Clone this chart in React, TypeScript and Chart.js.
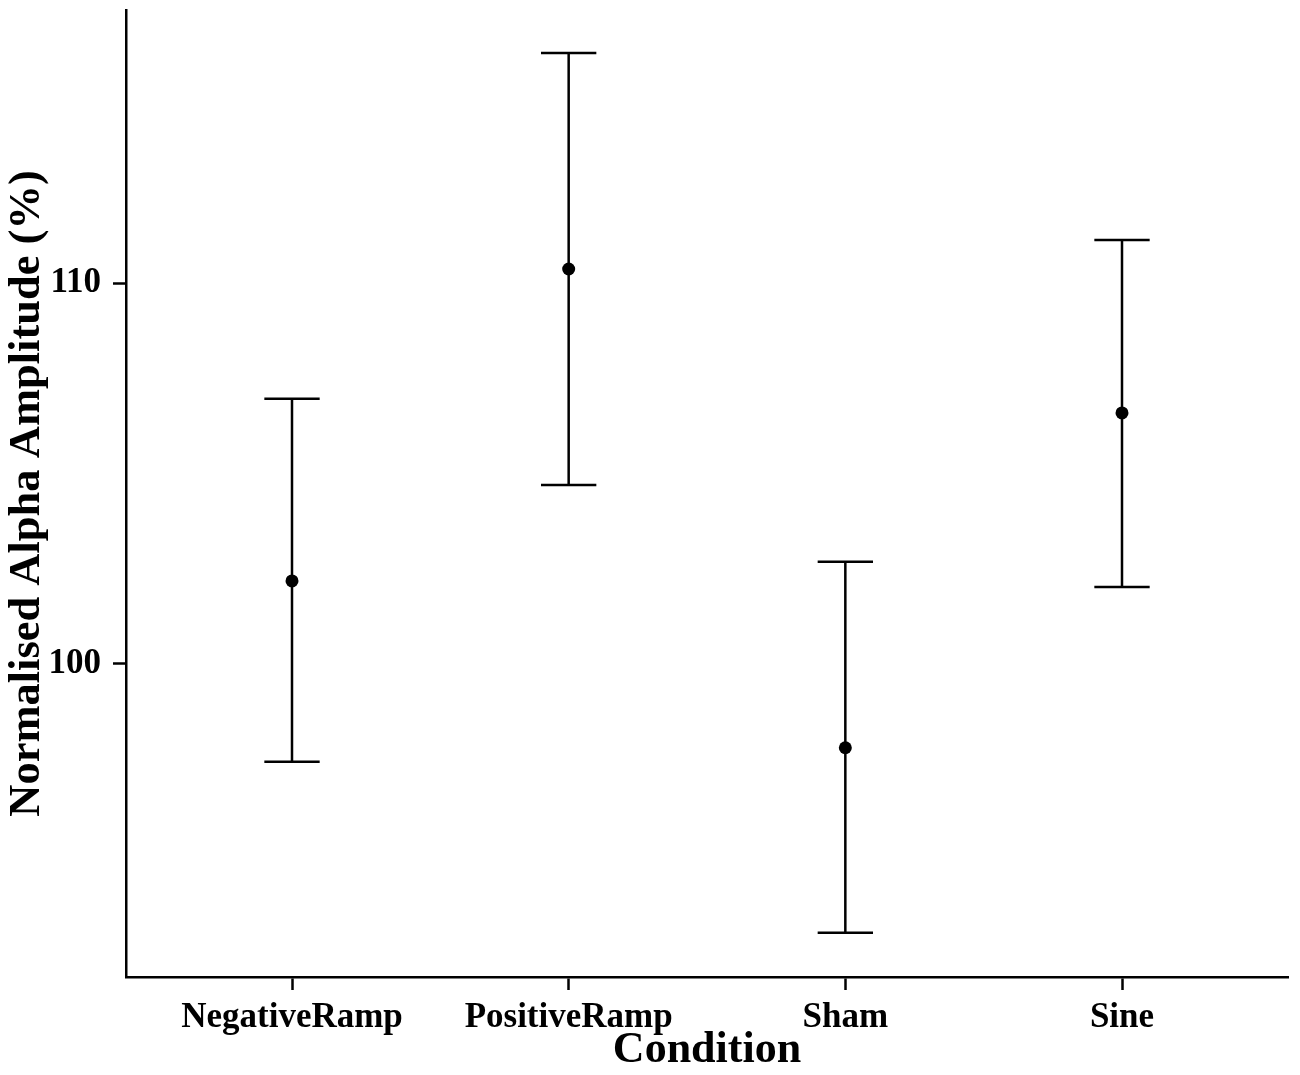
import { useEffect, useRef } from 'react'
import { Chart, registerables } from 'chart.js'

Chart.register(...registerables)

const conditions = ['NegativeRamp', 'PositiveRamp', 'Sham', 'Sine']
const means = [102.18, 110.37, 97.8, 106.59]
const upper = [106.96, 116.04, 102.68, 111.13]
const lower = [97.43, 104.7, 92.94, 102.02]
const yTicks = [100, 110]

const FONT = "'Liberation Serif', 'Times New Roman', serif"

// error bars drawn under the points, from the scale positions
const errorBars = {
  id: 'errorBars',
  beforeDatasetsDraw(chart: any) {
    const { ctx, scales } = chart
    const xs = scales.x
    const ys = scales.y
    ctx.save()
    ctx.strokeStyle = '#000'
    ctx.lineWidth = 2.5
    conditions.forEach((_, i) => {
      const x = xs.getPixelForValue(i + 1)
      const xl = xs.getPixelForValue(i + 1 - 0.1)
      const xr = xs.getPixelForValue(i + 1 + 0.1)
      const yt = ys.getPixelForValue(upper[i])
      const yb = ys.getPixelForValue(lower[i])
      ctx.beginPath()
      ctx.moveTo(x, yt)
      ctx.lineTo(x, yb)
      ctx.moveTo(xl, yt)
      ctx.lineTo(xr, yt)
      ctx.moveTo(xl, yb)
      ctx.lineTo(xr, yb)
      ctx.stroke()
    })
    ctx.restore()
  }
}

export default function App() {
  const canvasRef = useRef<HTMLCanvasElement>(null)
  const chartRef = useRef<Chart | null>(null)

  useEffect(() => {
    if (!canvasRef.current) return
    if (chartRef.current) chartRef.current.destroy()

    chartRef.current = new Chart(canvasRef.current, {
      type: 'scatter',
      data: {
        datasets: [
          {
            data: means.map((m, i) => ({ x: i + 1, y: m })),
            pointRadius: 6.5,
            pointBackgroundColor: '#000',
            pointBorderWidth: 0
          }
        ]
      },
      options: {
        animation: false,
        responsive: false,
        devicePixelRatio: 1,
        layout: { padding: { top: 10, right: 12, bottom: 0, left: 0 } },
        plugins: {
          legend: { display: false },
          tooltip: { enabled: false }
        },
        scales: {
          x: {
            type: 'linear',
            min: 0.4,
            max: 4.6,
            afterBuildTicks: (scale: any) => {
              scale.ticks = conditions.map((_, i) => ({ value: i + 1 }))
            },
            afterFit: (scale: any) => {
              scale.height = 98
              scale.paddingLeft = 0
              scale.paddingRight = 0
            },
            border: { display: true, color: '#000', width: 2.5 },
            grid: {
              drawOnChartArea: false,
              drawTicks: true,
              tickLength: 13,
              tickColor: '#000',
              tickWidth: 2.5
            },
            ticks: {
              color: '#000',
              padding: 7,
              maxRotation: 0,
              font: { family: FONT, size: 35, weight: 'bold' },
              callback: (v: any) => conditions[Math.round(v) - 1] ?? ''
            },
            title: {
              display: true,
              text: 'Condition',
              color: '#000',
              padding: { top: 0, bottom: -2 },
              font: { family: FONT, size: 44, weight: 'bold' }
            }
          },
          y: {
            type: 'linear',
            min: 91.78,
            max: 117.17,
            afterBuildTicks: (scale: any) => {
              scale.ticks = yTicks.map((v) => ({ value: v }))
            },
            afterFit: (scale: any) => {
              scale.width = 126
              scale.paddingTop = 0
              scale.paddingBottom = 0
            },
            border: { display: true, color: '#000', width: 2.5 },
            grid: {
              drawOnChartArea: false,
              drawTicks: true,
              tickLength: 13,
              tickColor: '#000',
              tickWidth: 2.5
            },
            ticks: {
              color: '#000',
              padding: 12,
              font: { family: FONT, size: 35, weight: 'bold' }
            },
            title: {
              display: true,
              text: 'Normalised Alpha Amplitude (%)',
              color: '#000',
              padding: { top: 1, bottom: 0 },
              font: { family: FONT, size: 44.5, weight: 'bold' }
            }
          }
        }
      },
      plugins: [errorBars]
    })

    return () => {
      if (chartRef.current) {
        chartRef.current.destroy()
        chartRef.current = null
      }
    }
  }, [])

  return (
    <div style={{ position: 'absolute', left: 0, top: 0, width: 1300, height: 1075, background: '#fff' }}>
      <canvas ref={canvasRef} width={1300} height={1075} />
    </div>
  )
}
